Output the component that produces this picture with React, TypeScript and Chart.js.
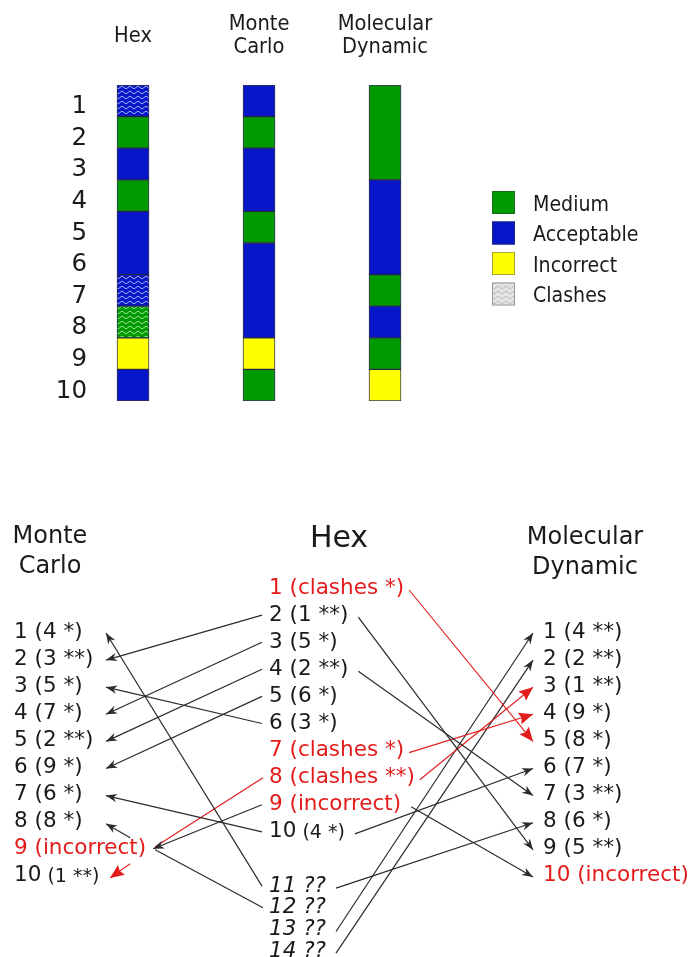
import { useEffect, useRef } from 'react';
import { Chart, registerables } from 'chart.js';

Chart.register(...registerables);

// ---------------- data ----------------
const methods = ['Hex', 'Monte Carlo', 'Molecular Dynamic'];
const ranks = [1, 2, 3, 4, 5, 6, 7, 8, 9, 10];
// quality per rank: M = Medium, A = Acceptable, I = Incorrect
const hexQuality = ['A', 'M', 'A', 'M', 'A', 'A', 'A', 'M', 'I', 'A'];
const hexClashes = [1, 0, 0, 0, 0, 0, 1, 1, 0, 0];
const mcQuality = ['A', 'M', 'A', 'A', 'M', 'A', 'A', 'A', 'I', 'M'];
const mdQuality = ['M', 'M', 'M', 'A', 'A', 'A', 'M', 'A', 'M', 'I'];
const legendLabels = ['Medium', 'Acceptable', 'Incorrect', 'Clashes'];

const mcList = ['1 (4 *)', '2 (3 **)', '3 (5 *)', '4 (7 *)', '5 (2 **)', '6 (9 *)', '7 (6 *)', '8 (8 *)', '9 (incorrect)', '10 (1 **)'];
const hexList = ['1 (clashes *)', '2 (1 **)', '3 (5 *)', '4 (2 **)', '5 (6 *)', '6 (3 *)', '7 (clashes *)', '8 (clashes **)', '9 (incorrect)', '10 (4 *)', '11 ??', '12 ??', '13 ??', '14 ??'];
const mdList = ['1 (4 **)', '2 (2 **)', '3 (1 **)', '4 (9 *)', '5 (8 *)', '6 (7 *)', '7 (3 **)', '8 (6 *)', '9 (5 **)', '10 (incorrect)'];

// [hex rank, monte carlo rank]
const hexToMc = [[2, 2], [3, 4], [4, 5], [5, 6], [6, 3], [9, 9], [10, 7], [11, 1]];
// routed past the "9 (incorrect)" label
const hexToMcVia9 = [[12, 8], [8, 10]];
// [hex rank, molecular dynamic rank]
const hexToMd = [[1, 5], [2, 9], [4, 7], [7, 4], [8, 3], [9, 10], [10, 6], [11, 8], [13, 1], [14, 2]];
const smallSuffix = { mc: [10], hex: [10] };

// ---------------- style / layout ----------------
const FONT = '"DejaVu Sans", sans-serif';
const GREEN = '#009a00';
const BLUE = '#0615c8';
const YELLOW = '#ffff00';
const RED = '#e31b1b';
const INK = '#1a1a1a';
const LINE = '#2b2b2b';

const ITEM_SIZE = 21.5;
const SUFFIX_SIZE = 19;
const ROW = 27.1;
const HEX_Y1 = 588;
const SIDE_Y1 = 632;
const MC_X = 14;
const HEX_X = 269;
const MD_X = 543;
const MC_TIP = 106;
const MD_TIP = 533;

function wavePattern(base: string, stroke: string) {
  const c = document.createElement('canvas');
  c.width = 8;
  c.height = 5;
  const g = c.getContext('2d')!;
  g.fillStyle = base;
  g.fillRect(0, 0, 8, 5);
  g.strokeStyle = stroke;
  g.lineWidth = 0.9;
  g.beginPath();
  g.moveTo(0, 2.5);
  g.quadraticCurveTo(2, -0.3, 4, 2.5);
  g.quadraticCurveTo(6, 5.3, 8, 2.5);
  g.stroke();
  return g.createPattern(c, 'repeat')!;
}

function qualityColor(q: string) {
  return q === 'M' ? GREEN : q === 'A' ? BLUE : YELLOW;
}

function blocks(q: string[], clash?: number[]) {
  const out: { q: string; c: number; start: number; end: number }[] = [];
  q.forEach((v, i) => {
    const c = clash ? clash[i] : 0;
    const last = out[out.length - 1];
    if (last && last.q === v && last.c === c) last.end = ranks[i];
    else out.push({ q: v, c, start: ranks[i], end: ranks[i] });
  });
  return out;
}

// draws text slightly stretched vertically, like the reference figure
function tallText(ctx: any, t: string, x: number, y: number, sy: number) {
  ctx.save();
  ctx.translate(x, y);
  ctx.scale(1, sy);
  ctx.fillText(t, 0, 0);
  ctx.restore();
}

function topConfig(): any {
  const clashFill: Record<string, CanvasPattern> = {
    A: wavePattern(BLUE, 'rgba(190,205,255,0.95)'),
    M: wavePattern(GREEN, 'rgba(180,240,180,0.95)'),
  };
  const cols = [
    { q: hexQuality, c: hexClashes },
    { q: mcQuality },
    { q: mdQuality },
  ];
  const datasets = cols.map((col, ci) => {
    const b = blocks(col.q, (col as any).c);
    return {
      label: methods[ci],
      data: b.map((k) => ({ x: ci, y: [k.start - 0.5, k.end + 0.5] })),
      backgroundColor: b.map((k) => (k.c ? clashFill[k.q] : qualityColor(k.q))),
      borderColor: 'rgba(20,20,50,0.85)',
      borderWidth: 1,
      borderSkipped: false,
      barThickness: 32,
      grouped: false,
    };
  });
  const legendFills = [GREEN, BLUE, YELLOW, wavePattern('#e4e4e4', '#b4b4b4')];
  const legendBorders = ['#1d6b1d', '#1b2a80', '#a8a830', '#9a9a9a'];

  const decor = {
    id: 'topDecor',
    afterDraw(chart: any) {
      const ctx = chart.ctx;
      const xs = chart.scales.x;
      ctx.save();
      ctx.fillStyle = INK;
      ctx.textAlign = 'center';
      ctx.textBaseline = 'middle';
      ctx.font = `19.5px ${FONT}`;
      methods.forEach((m, i) => {
        const px = xs.getPixelForValue(i);
        const lines = m.split(' ');
        if (lines.length === 1) tallText(ctx, lines[0], px, 37, 1.05);
        else lines.forEach((l, j) => tallText(ctx, l, px, 25 + j * 23, 1.05));
      });
      // legend
      ctx.textAlign = 'left';
      ctx.font = `19px ${FONT}`;
      legendLabels.forEach((l, i) => {
        const y = 191 + i * 30.5;
        ctx.fillStyle = legendFills[i];
        ctx.fillRect(492, y, 23, 23);
        ctx.strokeStyle = legendBorders[i];
        ctx.lineWidth = 1;
        ctx.strokeRect(492.5, y + 0.5, 22, 22);
        ctx.fillStyle = INK;
        tallText(ctx, l, 533, y + 14, 1.12);
      });
      ctx.restore();
    },
  };

  return {
    type: 'bar',
    data: { datasets },
    options: {
      responsive: false,
      animation: false,
      layout: { padding: { top: 85, bottom: 29, left: 0, right: 244 } },
      plugins: { legend: { display: false }, tooltip: { enabled: false } },
      scales: {
        x: { type: 'linear', min: -0.262, max: 2.5, offset: false, display: false },
        y: {
          type: 'linear',
          reverse: true,
          min: 0.5,
          max: 10.5,
          grid: { display: false, drawTicks: false },
          border: { display: false },
          ticks: { font: { family: FONT, size: 24.5 }, color: INK, padding: 13, labelOffset: 6 },
          afterBuildTicks: (s: any) => {
            s.ticks = ranks.map((v) => ({ value: v }));
          },
          afterFit: (s: any) => {
            s.width = 100;
          },
        },
      },
    },
    plugins: [decor],
  };
}

// ---------------- bottom diagram ----------------
const measurer = document.createElement('canvas').getContext('2d')!;

function isRed(t: string) {
  return t.includes('clashes') || t.includes('incorrect');
}
function isItalic(t: string) {
  return t.includes('??');
}
function font(size: number, italic: boolean) {
  return `${italic ? 'italic ' : ''}${size}px ${FONT}`;
}
function splitSmall(t: string) {
  const sp = t.indexOf(' ');
  return [t.slice(0, sp), t.slice(sp)];
}
function measureItem(t: string, small: boolean) {
  const it = isItalic(t);
  if (small) {
    const [a, b] = splitSmall(t);
    measurer.font = font(ITEM_SIZE, it);
    const wa = measurer.measureText(a).width;
    measurer.font = font(SUFFIX_SIZE, it);
    return wa + measurer.measureText(b).width;
  }
  measurer.font = font(ITEM_SIZE, it);
  return measurer.measureText(t).width;
}

const hexSlot = (r: number) => (r <= 10 ? r - 1 : 11.0 + (r - 11) * 0.8);
const hexY = (r: number) => HEX_Y1 + hexSlot(r) * ROW;
const sideY = (r: number) => SIDE_Y1 + (r - 1) * ROW;

function bottomConfig(): any {
  const hexW = hexList.map((t, i) => measureItem(t, smallSuffix.hex.includes(i + 1)));
  const mcW = mcList.map((t, i) => measureItem(t, smallSuffix.mc.includes(i + 1)));
  const mc9End = MC_X + mcW[8];

  const datasets: any[] = [];
  const add = (pts: number[][], color: string, head: boolean, red: boolean) => {
    datasets.push({
      data: pts.map(([x, y]) => ({ x, y })),
      showLine: true,
      borderColor: color,
      borderWidth: red ? 1.1 : 1.2,
      pointRadius: 0,
      fill: false,
      arrowHead: head,
      redHead: red,
    });
  };

  hexToMc.forEach(([h, m]) => {
    const red = hexList[h - 1].includes('clashes');
    const col = red ? RED : LINE;
    const to = m === 9 ? [mc9End + 7, sideY(9)] : [MC_TIP, sideY(m) + 1];
    add([[HEX_X - 7, hexY(h)], to], col, true, red);
  });
  hexToMcVia9.forEach(([h, m]) => {
    const red = hexList[h - 1].includes('clashes');
    const col = red ? RED : LINE;
    add([[HEX_X - 6, hexY(h)], [mc9End + 9, sideY(9) - (red ? 2 : -1)]], col, false, red);
    const above = m < 9;
    add(
      [
        [mc9End - 16, sideY(9) + (above ? -11 : 15)],
        [red ? MC_TIP + 4 : MC_TIP, sideY(m) + 2],
      ],
      col,
      true,
      red,
    );
  });
  hexToMd.forEach(([h, d]) => {
    const red = hexList[h - 1].includes('clashes');
    const col = red ? RED : LINE;
    const sx = HEX_X + hexW[h - 1] + (red ? 5 : 10);
    add([[sx, hexY(h) + 2], [MD_TIP, sideY(d) + 1]], col, true, red);
  });

  const drawItem = (ctx: any, t: string, px: number, py: number, small: boolean) => {
    const it = isItalic(t);
    ctx.fillStyle = isRed(t) ? RED : INK;
    if (small) {
      const [a, b] = splitSmall(t);
      ctx.font = font(ITEM_SIZE, it);
      ctx.fillText(a, px, py);
      const wa = ctx.measureText(a).width;
      ctx.font = font(SUFFIX_SIZE, it);
      ctx.fillText(b, px + wa, py + 1);
    } else {
      ctx.font = font(ITEM_SIZE, it);
      ctx.fillText(t, px, py);
    }
  };

  const decor = {
    id: 'bottomDecor',
    afterDatasetsDraw(chart: any) {
      const ctx = chart.ctx;
      const xs = chart.scales.x;
      const ys = chart.scales.y;
      ctx.save();
      // arrow heads
      chart.data.datasets.forEach((ds: any, i: number) => {
        if (!ds.arrowHead) return;
        const pts = chart.getDatasetMeta(i).data;
        const p0 = pts[pts.length - 2];
        const p1 = pts[pts.length - 1];
        const a = Math.atan2(p1.y - p0.y, p1.x - p0.x);
        const L = ds.redHead ? 14 : 11;
        const W = ds.redHead ? 6 : 4.2;
        const notch = ds.redHead ? 0.85 : 0.7;
        ctx.save();
        ctx.translate(p1.x, p1.y);
        ctx.rotate(a);
        ctx.beginPath();
        ctx.moveTo(0, 0);
        ctx.lineTo(-L, -W);
        ctx.lineTo(-L * notch, 0);
        ctx.lineTo(-L, W);
        ctx.closePath();
        ctx.fillStyle = ds.borderColor;
        ctx.fill();
        ctx.restore();
      });

      // titles
      ctx.textBaseline = 'middle';
      ctx.textAlign = 'center';
      ctx.fillStyle = INK;
      ctx.font = `24px ${FONT}`;
      methods[1].split(' ').forEach((l, j) => ctx.fillText(l, xs.getPixelForValue(50), ys.getPixelForValue(537 + j * 30)));
      methods[2].split(' ').forEach((l, j) => ctx.fillText(l, xs.getPixelForValue(585), ys.getPixelForValue(538 + j * 30)));
      ctx.font = `30px ${FONT}`;
      ctx.fillText(methods[0], xs.getPixelForValue(339), ys.getPixelForValue(539));

      // lists
      ctx.textAlign = 'left';
      mcList.forEach((t, i) =>
        drawItem(ctx, t, xs.getPixelForValue(MC_X), ys.getPixelForValue(sideY(i + 1)), smallSuffix.mc.includes(i + 1)),
      );
      hexList.forEach((t, i) =>
        drawItem(ctx, t, xs.getPixelForValue(HEX_X), ys.getPixelForValue(hexY(i + 1)), smallSuffix.hex.includes(i + 1)),
      );
      mdList.forEach((t, i) => drawItem(ctx, t, xs.getPixelForValue(MD_X), ys.getPixelForValue(sideY(i + 1)), false));
      ctx.restore();
    },
  };

  return {
    type: 'scatter',
    data: { datasets },
    options: {
      responsive: false,
      animation: false,
      layout: { padding: 0 },
      plugins: { legend: { display: false }, tooltip: { enabled: false } },
      scales: {
        x: { type: 'linear', min: 0, max: 692, display: false },
        y: { type: 'linear', min: 430, max: 957, reverse: true, display: false },
      },
    },
    plugins: [decor],
  };
}

export default function App() {
  const topRef = useRef<HTMLCanvasElement>(null);
  const botRef = useRef<HTMLCanvasElement>(null);
  useEffect(() => {
    document.body.style.margin = '0';
    const c1 = new Chart(topRef.current!, topConfig());
    const c2 = new Chart(botRef.current!, bottomConfig());
    return () => {
      c1.destroy();
      c2.destroy();
    };
  }, []);
  return (
    <div style={{ position: 'relative', width: 692, height: 957, background: '#fff' }}>
      <canvas ref={topRef} width={692} height={430} style={{ position: 'absolute', left: 0, top: 0 }} />
      <canvas ref={botRef} width={692} height={527} style={{ position: 'absolute', left: 0, top: 430 }} />
    </div>
  );
}
